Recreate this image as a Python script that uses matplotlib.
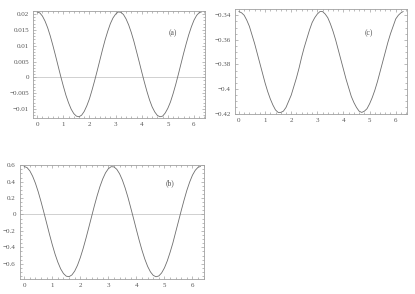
import matplotlib
matplotlib.use("Agg")
import matplotlib.pyplot as plt
from matplotlib.ticker import MultipleLocator, FuncFormatter

x_vals = [0.0, 0.1, 0.2, 0.3, 0.4, 0.5, 0.6, 0.7, 0.8, 0.9,
          1.0, 1.1, 1.2, 1.3, 1.4, 1.5, 1.6, 1.7, 1.8, 1.9,
          2.0, 2.1, 2.2, 2.3, 2.4, 2.5, 2.6, 2.7, 2.8, 2.9,
          3.0, 3.1, 3.2, 3.3, 3.4, 3.5, 3.6, 3.7, 3.8, 3.9,
          4.0, 4.1, 4.2, 4.3, 4.4, 4.5, 4.6, 4.7, 4.8, 4.9,
          5.0, 5.1, 5.2, 5.3, 5.4, 5.5, 5.6, 5.7, 5.8, 5.9,
          6.0, 6.1, 6.2, 6.283]

a_vals = [0.0207, 0.0204, 0.0194, 0.0178, 0.0157, 0.0131, 0.0101, 0.0069, 0.0036, 0.0003,
          -0.0028, -0.0057, -0.0081, -0.0101, -0.0115, -0.0123, -0.0125, -0.0120, -0.0108, -0.0090,
          -0.0068, -0.0040, -0.0010, 0.0022, 0.0055, 0.0088, 0.0119, 0.0146, 0.0170, 0.0188,
          0.0200, 0.0207, 0.0206, 0.0199, 0.0185, 0.0166, 0.0142, 0.0114, 0.0082, 0.0050,
          0.0017, -0.0015, -0.0045, -0.0072, -0.0094, -0.0110, -0.0121, -0.0125, -0.0123, -0.0113,
          -0.0098, -0.0078, -0.0052, -0.0023, 0.0009, 0.0042, 0.0075, 0.0106, 0.0135, 0.0160,
          0.0181, 0.0196, 0.0205, 0.0207]

b_vals = [0.585, 0.572, 0.532, 0.467, 0.381, 0.276, 0.156, 0.027, -0.106, -0.240,
          -0.367, -0.483, -0.582, -0.663, -0.720, -0.752, -0.758, -0.737, -0.690, -0.619,
          -0.526, -0.416, -0.293, -0.162, -0.029, 0.104, 0.228, 0.340, 0.434, 0.508,
          0.558, 0.583, 0.580, 0.551, 0.497, 0.420, 0.322, 0.208, 0.080, -0.051,
          -0.185, -0.315, -0.436, -0.543, -0.632, -0.699, -0.742, -0.759, -0.749, -0.712,
          -0.651, -0.567, -0.463, -0.348, -0.215, -0.084, 0.049, 0.176, 0.295, 0.396,
          0.480, 0.539, 0.576, 0.585]

c_vals = [-0.337, -0.338, -0.340, -0.344, -0.349, -0.356, -0.363, -0.371, -0.379, -0.387,
          -0.395, -0.402, -0.408, -0.413, -0.417, -0.419, -0.419, -0.418, -0.415, -0.410,
          -0.405, -0.398, -0.391, -0.383, -0.374, -0.366, -0.359, -0.352, -0.346, -0.342,
          -0.339, -0.337, -0.337, -0.339, -0.342, -0.347, -0.353, -0.360, -0.368, -0.376,
          -0.384, -0.392, -0.399, -0.406, -0.411, -0.415, -0.418, -0.419, -0.418, -0.416,
          -0.412, -0.407, -0.401, -0.394, -0.386, -0.378, -0.370, -0.362, -0.355, -0.349,
          -0.343, -0.340, -0.338, -0.337]

FRAME = "#a0a0a0"
LINE = "#6e6e6e"
TEXT = "#555555"


def fmt(v, pos):
    s = ("%.3f" % v).rstrip("0").rstrip(".")
    if s in ("-0", ""):
        s = "0"
    return s.replace("-", "\u2212")


def style(ax, ylim, ymaj, ymin, label, lx, ly, zero=True):
    ax.set_xlim(-0.15, 6.42)
    ax.set_ylim(*ylim)
    ax.xaxis.set_major_locator(MultipleLocator(1))
    ax.xaxis.set_minor_locator(MultipleLocator(0.2))
    ax.yaxis.set_major_locator(MultipleLocator(ymaj))
    ax.yaxis.set_minor_locator(MultipleLocator(ymin))
    ax.yaxis.set_major_formatter(FuncFormatter(fmt))
    ax.xaxis.set_major_formatter(FuncFormatter(fmt))
    ax.tick_params(which="both", direction="in", top=True, right=True,
                   color=FRAME, width=0.5, labelsize=5, labelcolor=TEXT, pad=3)
    ax.tick_params(which="major", length=2.5)
    ax.tick_params(which="minor", length=1.3)
    for sp in ax.spines.values():
        sp.set_color(FRAME)
        sp.set_linewidth(0.6)
    if zero:
        ax.axhline(0, color="#d0d0d0", lw=0.7, zorder=1)
    ax.text(lx, ly, label, fontsize=5.5, color=TEXT, ha="center", va="center")


plt.rcParams["font.family"] = ["Liberation Serif", "DejaVu Serif"]
fig = plt.figure(figsize=(4.15, 2.94), dpi=100)

ax_a = fig.add_axes([0.0802, 0.5986, 0.4137, 0.365])
ax_a.plot(x_vals, a_vals, color=LINE, lw=0.6, zorder=2)
style(ax_a, (-0.0129, 0.0211), 0.005, 0.001, "(a)", 5.2, 0.014)

ax_c = fig.add_axes([0.5663, 0.6122, 0.4137, 0.356])
ax_c.plot(x_vals, c_vals, color=LINE, lw=0.6, zorder=2)
style(ax_c, (-0.4203, -0.3352), 0.02, 0.005, "(c)", 4.96, -0.3544, zero=False)

ax_b = fig.add_axes([0.0482, 0.05, 0.444, 0.3898])
ax_b.plot(x_vals, b_vals, color=LINE, lw=0.6, zorder=2)
style(ax_b, (-0.79, 0.607), 0.2, 0.05, "(b)", 5.2, 0.38)

fig.savefig("out.png", dpi=100)
